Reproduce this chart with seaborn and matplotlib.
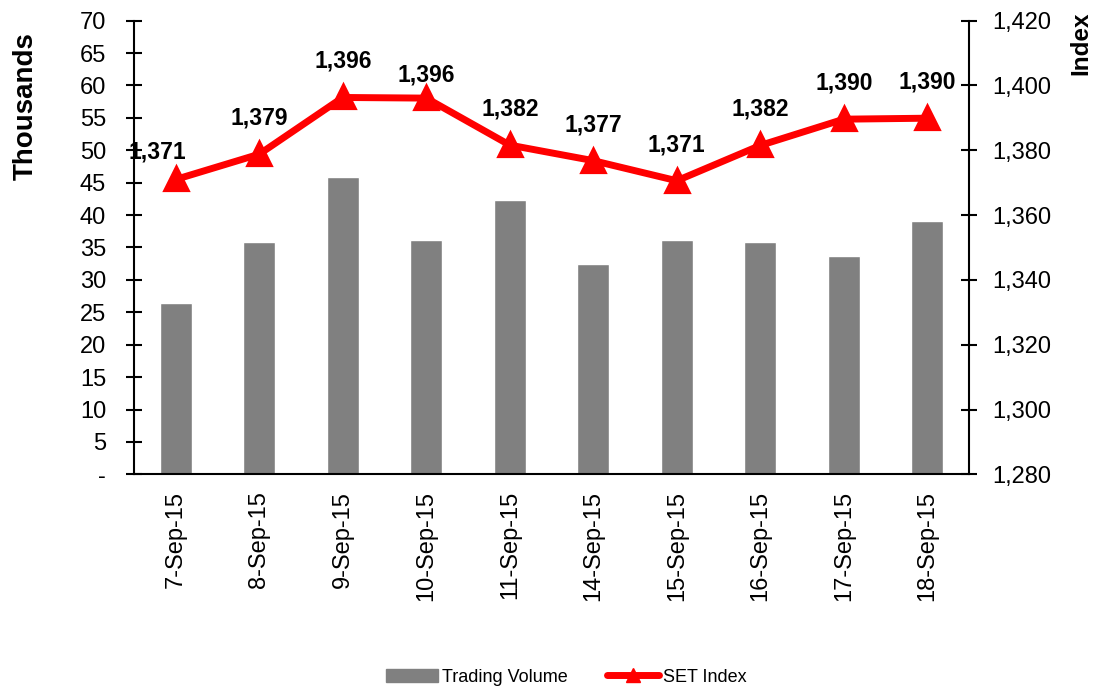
import numpy as np
import pandas as pd
import seaborn as sns
import matplotlib.pyplot as plt
from matplotlib.patches import Patch
from matplotlib.lines import Line2D
from matplotlib.ticker import FixedLocator, FuncFormatter

# data
dates = ["7-Sep-15", "8-Sep-15", "9-Sep-15", "10-Sep-15", "11-Sep-15",
         "14-Sep-15", "15-Sep-15", "16-Sep-15", "17-Sep-15", "18-Sep-15"]
volume = [26.5, 35.8, 45.9, 36.1, 42.4, 32.5, 36.1, 35.8, 33.7, 39.1]  # thousands
set_index = [1371.0, 1378.8, 1396.3, 1396.1, 1381.6, 1376.8, 1370.6, 1381.5, 1389.6, 1389.9]

df = pd.DataFrame({"date": dates, "volume": volume, "index": set_index})

sns.set_style("white")
plt.rcParams["font.family"] = ["Liberation Sans", "DejaVu Sans"]
plt.rcParams.update({"text.color": "black", "axes.labelcolor": "black",
                     "xtick.color": "black", "ytick.color": "black"})

fig = plt.figure(figsize=(10.93, 6.89), dpi=100)
ax = fig.add_axes([0.1226, 0.3116, 0.7640, 0.6584])
ax2 = ax.twinx()

sns.barplot(data=df, x="date", y="volume", color="#808080", saturation=1,
            width=0.38, ax=ax)
sns.pointplot(data=df, x="date", y="index", color="#ff0000", markers="^",
              markersize=14, linewidth=5, ax=ax2)

ax.set_ylim(0, 70)
ax.set_yticks(np.arange(0, 71, 5))
ax.yaxis.set_major_formatter(FuncFormatter(lambda v, p: "-" if v == 0 else f"{v:.0f}"))
ax2.set_ylim(1280, 1420)
ax2.set_yticks(np.arange(1280, 1421, 20))
ax2.yaxis.set_major_formatter(FuncFormatter(lambda v, p: f"{v:,.0f}"))
ax.set_xlim(-0.5, len(dates) - 0.5)

ax.set_xlabel("")
ax.set_ylabel("")
ax2.set_ylabel("")
ax2.set_xlabel("")

# x ticks at category boundaries, labels at centres
ax.xaxis.set_minor_locator(FixedLocator(np.arange(-0.5, len(dates), 1)))
ax.tick_params(axis="x", which="major", length=0, pad=12, labelsize=17, labelrotation=90)
ax.tick_params(axis="x", which="minor", length=12, width=1.5, direction="inout")
ax.tick_params(axis="y", length=12, width=1.5, direction="inout", pad=14, labelsize=17,
               left=True)
ax2.tick_params(axis="y", length=12, width=1.5, direction="inout", pad=11, labelsize=17,
                right=True)

for a in (ax, ax2):
    a.spines["top"].set_visible(False)
    for s in ("left", "right", "bottom"):
        a.spines[s].set_linewidth(1.5)
        a.spines[s].set_color("black")
ax.spines["right"].set_visible(False)
ax2.spines["left"].set_visible(False)
ax2.spines["bottom"].set_visible(False)
ax.set_zorder(1)
ax.patch.set_visible(False)
ax2.set_zorder(2)

# data labels above the markers
nudge = {0: (-18, 27), 3: (0, 23)}
for i, v in enumerate(set_index):
    dx, dy = nudge.get(i, (0, 36))
    ax2.annotate(f"{round(v):,}", (i, v), xytext=(dx * 0.72, dy * 0.72),
                 textcoords="offset points", ha="center", va="center",
                 fontsize=16.5, fontweight="bold")

fig.text(26 / 1093, 1 - 106 / 689, "Thousands", rotation=90, ha="center", va="center",
         fontsize=20, fontweight="bold")
fig.text(1081 / 1093, 1 - 43 / 689, "Index", rotation=90, ha="center", va="center",
         fontsize=17.5, fontweight="bold")

handles = [Patch(color="#808080"),
           Line2D([], [], color="#ff0000", lw=5, marker="^", markersize=10)]
fig.legend(handles, ["Trading Volume", "SET Index"], loc="center",
           bbox_to_anchor=(0.518, 0.0174), ncol=2, frameon=False, fontsize=13,
           handlelength=2.9, handletextpad=0.2, columnspacing=2.2)

fig.savefig("out.png", dpi=100)
